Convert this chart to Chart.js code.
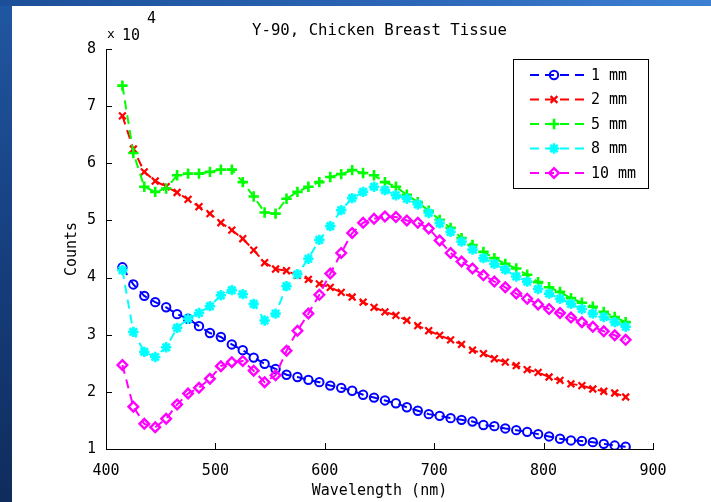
<!DOCTYPE html>
<html>
<head>
<meta charset="utf-8">
<script src="https://cdn.jsdelivr.net/npm/chart.js@4"></script>
<style>
  html, body { margin:0; padding:0; }
  body { width:711px; height:502px; overflow:hidden; position:relative;
         background: linear-gradient(180deg, #2157a2 0%, #163f7e 50%, #0f2c5c 100%); }
  #topband { position:absolute; left:0; top:0; width:711px; height:6px;
             background: linear-gradient(90deg, #1c4f98 0%, #2d67b8 60%, #3d80d2 100%); }
  #paper { position:absolute; left:12px; top:6px; width:699px; height:496px; background:#fff; }
  #c { position:absolute; left:0; top:0; }
</style>
</head>
<body>
<div id="topband"></div>
<div id="paper"></div>
<canvas id="c" width="711" height="502"></canvas>
<script>
// ---- data (counts in units of 10^4) ----
const wavelengths = [415,425,435,445,455,465,475,485,495,505,515,525,535,545,555,565,575,585,595,605,615,625,635,645,655,665,675,685,695,705,715,725,735,745,755,765,775,785,795,805,815,825,835,845,855,865,875];
const seriesNames = ['1 mm','2 mm','5 mm','8 mm','10 mm'];
const counts1mm = [4.18,3.88,3.68,3.57,3.48,3.36,3.28,3.15,3.03,2.96,2.83,2.73,2.60,2.49,2.40,2.30,2.26,2.21,2.17,2.11,2.07,2.02,1.95,1.90,1.85,1.80,1.73,1.67,1.61,1.58,1.54,1.51,1.48,1.42,1.40,1.36,1.33,1.30,1.26,1.22,1.18,1.15,1.14,1.12,1.09,1.06,1.04];
const counts2mm = [6.83,6.25,5.85,5.69,5.59,5.49,5.37,5.24,5.12,4.96,4.83,4.68,4.48,4.26,4.15,4.12,4.04,3.97,3.89,3.83,3.74,3.66,3.57,3.48,3.40,3.34,3.25,3.16,3.07,2.99,2.91,2.83,2.73,2.67,2.58,2.52,2.46,2.39,2.34,2.26,2.20,2.14,2.11,2.05,2.01,1.98,1.91];
const counts5mm = [7.36,6.18,5.59,5.50,5.56,5.79,5.82,5.82,5.85,5.89,5.89,5.67,5.42,5.14,5.12,5.38,5.50,5.59,5.67,5.76,5.81,5.88,5.83,5.79,5.67,5.59,5.45,5.32,5.17,5.01,4.87,4.69,4.57,4.45,4.34,4.24,4.16,4.05,3.92,3.83,3.75,3.64,3.56,3.49,3.40,3.31,3.22];
const counts8mm = [4.13,3.05,2.70,2.61,2.78,3.12,3.28,3.38,3.50,3.69,3.78,3.71,3.54,3.25,3.37,3.85,4.06,4.33,4.66,4.90,5.18,5.39,5.50,5.59,5.53,5.44,5.38,5.28,5.13,4.95,4.80,4.63,4.49,4.34,4.24,4.14,4.02,3.93,3.80,3.72,3.63,3.54,3.45,3.37,3.31,3.22,3.14];
const counts10mm = [2.47,1.74,1.44,1.38,1.53,1.78,1.97,2.07,2.23,2.45,2.52,2.54,2.37,2.17,2.29,2.72,3.07,3.37,3.70,4.07,4.43,4.78,4.96,5.03,5.07,5.06,5.00,4.96,4.86,4.65,4.43,4.28,4.16,4.04,3.93,3.83,3.72,3.63,3.53,3.45,3.38,3.30,3.22,3.14,3.06,2.99,2.91];
const xTicks = [400,500,600,700,800,900];
const yTicks = [1,2,3,4,5,6,7,8];
const titleText = 'Y-90, Chicken Breast Tissue';
const xLabel = 'Wavelength (nm)';
const yLabel = 'Counts';
const exponentText = '4';

// ---- styling ----
const FONT = 'DejaVu Sans Mono';
const colors = ['#0000ff','#ff0000','#00ff00','#00ffff','#ff00ff'];
const markers = [
  {pointStyle:'circle', radius:4.2, borderWidth:2},
  {pointStyle:'crossRot', radius:4.8, borderWidth:2.2},
  {pointStyle:'cross', radius:5.2, borderWidth:2.6},
  {pointStyle:'star', radius:5.2, borderWidth:2.6},
  {pointStyle:'rectRot', radius:4.8, borderWidth:2.4}
];
const DASH = [9,6];
const allSeries = [counts1mm, counts2mm, counts5mm, counts8mm, counts10mm];

const datasets = allSeries.map((vals, i) => ({
  label: seriesNames[i],
  data: wavelengths.map((w, k) => ({x: w, y: vals[k]})),
  borderColor: colors[i],
  backgroundColor: 'rgba(0,0,0,0)',
  borderWidth: 2,
  borderDash: DASH,
  pointStyle: markers[i].pointStyle,
  pointRadius: markers[i].radius,
  pointBorderWidth: markers[i].borderWidth,
  pointBorderColor: colors[i],
  pointBackgroundColor: 'rgba(0,0,0,0)',
  tension: 0,
  order: 5 - i
}));

const decorPlugin = {
  id: 'decor',
  afterDraw(chart) {
    const ctx = chart.ctx;
    const a = chart.chartArea;
    const xs = chart.scales.x, ys = chart.scales.y;
    ctx.save();
    // inward ticks
    ctx.strokeStyle = '#000';
    ctx.lineWidth = 1;
    ctx.setLineDash([]);
    ctx.beginPath();
    xTicks.forEach(v => {
      const px = Math.round(xs.getPixelForValue(v)) + 0.5;
      ctx.moveTo(px, a.bottom); ctx.lineTo(px, a.bottom - 6);
    });
    yTicks.forEach(v => {
      const py = Math.round(ys.getPixelForValue(v)) + 0.5;
      ctx.moveTo(a.left, py); ctx.lineTo(a.left + 6, py);
    });
    ctx.stroke();

    // exponent label
    ctx.fillStyle = '#000';
    ctx.textBaseline = 'middle';
    ctx.textAlign = 'left';
    ctx.font = '13px "' + FONT + '"';
    ctx.fillText('x', a.left + 1, 35);
    ctx.font = '15px "' + FONT + '"';
    ctx.fillText('10', a.left + 16, 36);
    ctx.fillText(exponentText, a.left + 41, 19);

    // legend
    const bx = 513, by = 59, bw = 135, bh = 129;
    ctx.fillStyle = '#fff';
    ctx.fillRect(bx, by, bw, bh);
    ctx.strokeStyle = '#000';
    ctx.lineWidth = 1;
    ctx.strokeRect(bx + 0.5, by + 0.5, bw, bh);
    seriesNames.forEach((name, i) => {
      const y = 75 + i * 24.5;
      ctx.strokeStyle = colors[i];
      ctx.lineWidth = 2;
      ctx.setLineDash(DASH);
      ctx.beginPath();
      ctx.moveTo(530, y); ctx.lineTo(585, y);
      ctx.stroke();
      ctx.setLineDash([]);
      ctx.fillStyle = 'rgba(0,0,0,0)';
      ctx.strokeStyle = colors[i];
      ctx.lineWidth = markers[i].borderWidth;
      Chart.helpers.drawPoint(ctx, {pointStyle: markers[i].pointStyle, radius: markers[i].radius, borderWidth: markers[i].borderWidth, rotation: 0}, 554, y);
      ctx.fillStyle = '#000';
      ctx.font = '15px "' + FONT + '"';
      ctx.textAlign = 'left';
      ctx.textBaseline = 'middle';
      ctx.fillText(name, 591, y + 1);
    });
    ctx.restore();
  }
};

new Chart(document.getElementById('c'), {
  type: 'line',
  data: { datasets },
  options: {
    responsive: false,
    devicePixelRatio: 1,
    animation: false,
    layout: { padding: { left: 0, right: 58, top: 0, bottom: 0 } },
    plugins: {
      legend: { display: false },
      tooltip: { enabled: false },
      title: {
        display: true, text: titleText, fullSize: false,
        color: '#000', font: { family: FONT, size: 15.7, weight: 'normal', lineHeight: 1.2 },
        padding: { top: 22, bottom: 8.2 }
      }
    },
    scales: {
      x: {
        type: 'linear', min: 400, max: 900,
        afterFit: s => { s.height = 53; },
        afterBuildTicks: s => { s.ticks = xTicks.map(v => ({value: v})); },
        ticks: { color: '#000', font: { family: FONT, size: 15 }, padding: 13, maxRotation: 0, callback: v => String(v) },
        grid: { drawOnChartArea: false, drawTicks: false },
        border: { display: true, color: '#000', width: 1 },
        title: { display: true, text: xLabel, color: '#000', font: { family: FONT, size: 15 }, padding: { top: 0, bottom: 2 } }
      },
      y: {
        type: 'linear', min: 1, max: 8,
        afterFit: s => { s.width = 106; },
        afterBuildTicks: s => { s.ticks = yTicks.map(v => ({value: v})); },
        ticks: { color: '#000', font: { family: FONT, size: 15 }, padding: 10, callback: v => String(v) },
        grid: { drawOnChartArea: false, drawTicks: false },
        border: { display: true, color: '#000', width: 1 },
        title: { display: true, text: yLabel, color: '#000', font: { family: FONT, size: 15 }, padding: { top: 63, bottom: 0 } }
      }
    }
  },
  plugins: [decorPlugin]
});
</script>
</body>
</html>
